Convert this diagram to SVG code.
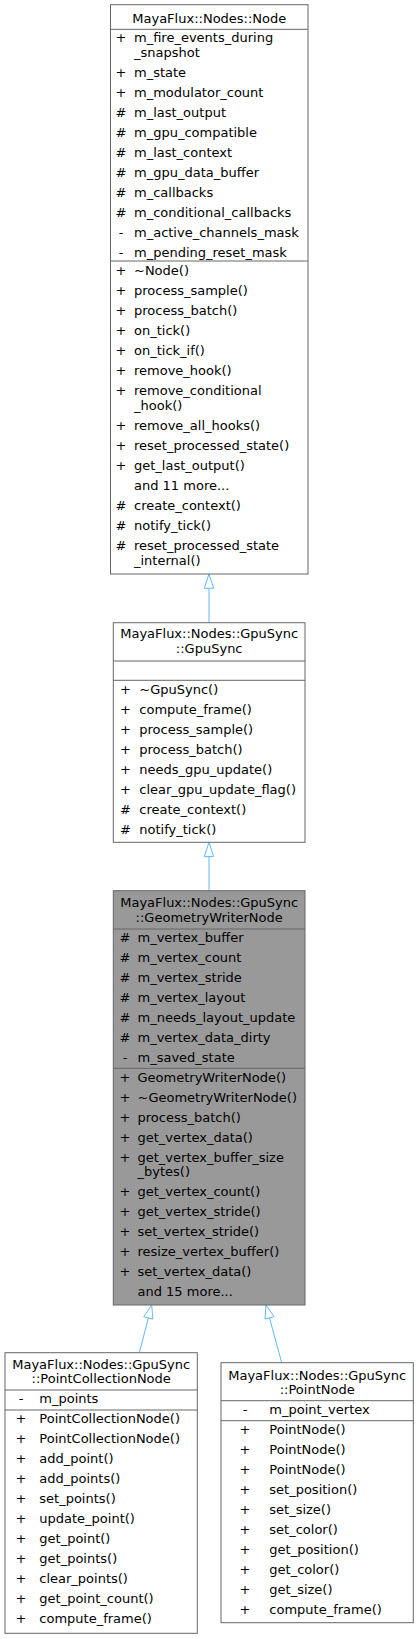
<svg xmlns="http://www.w3.org/2000/svg" width="419" height="1639" viewBox="0 0 419 1639">
<style>
text{font-family:"DejaVu Sans","Liberation Sans",sans-serif;font-size:13px;fill:#000}
.t{text-anchor:middle}
.s{text-anchor:middle}
.box{fill:#fff;stroke:#666;stroke-width:1}
.cur{fill:#999;stroke:#666;stroke-width:1}
.sep{stroke:#666;stroke-width:1;fill:none}
.edge{stroke:#63b8ff;stroke-width:1;fill:none}
.head{stroke:#63b8ff;stroke-width:1;fill:#fff}
</style>
<rect width="419" height="1639" fill="#fff"/>
<g id="connectors">
<path class="edge" d="M209,622.7V588.3"/>
<polygon class="head" points="209,574 213.7,588.3 204.3,588.3"/>
<path class="edge" d="M209,890.7V856.6"/>
<polygon class="head" points="209,842.3 213.7,856.6 204.3,856.6"/>
<path class="edge" d="M139.3,1352.7L148.35,1317.9"/>
<polygon class="head" points="151.7,1305 152.87,1319.07 143.83,1316.73"/>
<path class="edge" d="M281.7,1362.7L269.5,1317.8"/>
<polygon class="head" points="266,1305 274,1316.6 265,1319.06"/>
</g>
<g id="node-Node">
<rect class="box" x="110.5" y="4.7" width="197.5" height="569.3"/>
<path class="sep" d="M110.5,29.3H308M110.5,261H308"/>
<text class="t" x="209.3" y="22.5">MayaFlux::Nodes::Node</text>
<g>
<text class="s" x="121" y="42.3">+</text><text x="134" y="42.3">m_fire_events_during</text>
<text x="134" y="57">_snapshot</text>
<text class="s" x="121" y="77">+</text><text x="134" y="77">m_state</text>
<text class="s" x="121" y="97">+</text><text x="134" y="97">m_modulator_count</text>
<text class="s" x="121" y="117">#</text><text x="134" y="117">m_last_output</text>
<text class="s" x="121" y="137">#</text><text x="134" y="137">m_gpu_compatible</text>
<text class="s" x="121" y="157">#</text><text x="134" y="157">m_last_context</text>
<text class="s" x="121" y="177">#</text><text x="134" y="177">m_gpu_data_buffer</text>
<text class="s" x="121" y="197">#</text><text x="134" y="197">m_callbacks</text>
<text class="s" x="121" y="217">#</text><text x="134" y="217">m_conditional_callbacks</text>
<text class="s" x="121" y="237">-</text><text x="134" y="237">m_active_channels_mask</text>
<text class="s" x="121" y="257">-</text><text x="134" y="257">m_pending_reset_mask</text>
</g>
<g>
<text class="s" x="121" y="275.3">+</text><text x="134" y="275.3">~Node()</text>
<text class="s" x="121" y="295.3">+</text><text x="134" y="295.3">process_sample()</text>
<text class="s" x="121" y="315.3">+</text><text x="134" y="315.3">process_batch()</text>
<text class="s" x="121" y="335.3">+</text><text x="134" y="335.3">on_tick()</text>
<text class="s" x="121" y="355.3">+</text><text x="134" y="355.3">on_tick_if()</text>
<text class="s" x="121" y="375.3">+</text><text x="134" y="375.3">remove_hook()</text>
<text class="s" x="121" y="395.3">+</text><text x="134" y="395.3">remove_conditional</text>
<text x="134" y="410">_hook()</text>
<text class="s" x="121" y="430">+</text><text x="134" y="430">remove_all_hooks()</text>
<text class="s" x="121" y="450">+</text><text x="134" y="450">reset_processed_state()</text>
<text class="s" x="121" y="470">+</text><text x="134" y="470">get_last_output()</text>
<text x="134" y="490">and 11 more...</text>
<text class="s" x="121" y="510">#</text><text x="134" y="510">create_context()</text>
<text class="s" x="121" y="530">#</text><text x="134" y="530">notify_tick()</text>
<text class="s" x="121" y="550">#</text><text x="134" y="550">reset_processed_state</text>
<text x="134" y="564.7">_internal()</text>
</g>
</g>
<g id="node-GpuSync">
<rect class="box" x="113.3" y="622.7" width="191.7" height="219.6"/>
<path class="sep" d="M113.3,661H305M113.3,680.3H305"/>
<text class="t" x="209.2" y="638.3">MayaFlux::Nodes::GpuSync</text>
<text class="t" x="209.2" y="653.3">::GpuSync</text>
<text class="s" x="125.5" y="694">+</text><text x="139.3" y="694">~GpuSync()</text>
<text class="s" x="125.5" y="714">+</text><text x="139.3" y="714">compute_frame()</text>
<text class="s" x="125.5" y="734">+</text><text x="139.3" y="734">process_sample()</text>
<text class="s" x="125.5" y="754">+</text><text x="139.3" y="754">process_batch()</text>
<text class="s" x="125.5" y="774">+</text><text x="139.3" y="774">needs_gpu_update()</text>
<text class="s" x="125.5" y="794">+</text><text x="139.3" y="794">clear_gpu_update_flag()</text>
<text class="s" x="125.5" y="814">#</text><text x="139.3" y="814">create_context()</text>
<text class="s" x="125.5" y="834">#</text><text x="139.3" y="834">notify_tick()</text>
</g>
<g id="node-GeometryWriterNode">
<rect class="cur" x="113.3" y="890.7" width="191.7" height="414.3"/>
<path class="sep" d="M113.3,929H305M113.3,1068.3H305"/>
<text class="t" x="209.2" y="907.3">MayaFlux::Nodes::GpuSync</text>
<text class="t" x="209.2" y="921.7">::GeometryWriterNode</text>
<text class="s" x="125" y="941.7">#</text><text x="137.5" y="941.7">m_vertex_buffer</text>
<text class="s" x="125" y="961.7">#</text><text x="137.5" y="961.7">m_vertex_count</text>
<text class="s" x="125" y="981.7">#</text><text x="137.5" y="981.7">m_vertex_stride</text>
<text class="s" x="125" y="1001.7">#</text><text x="137.5" y="1001.7">m_vertex_layout</text>
<text class="s" x="125" y="1021.7">#</text><text x="137.5" y="1021.7">m_needs_layout_update</text>
<text class="s" x="125" y="1041.7">#</text><text x="137.5" y="1041.7">m_vertex_data_dirty</text>
<text class="s" x="125" y="1061.7">-</text><text x="137.5" y="1061.7">m_saved_state</text>
<text class="s" x="125" y="1081.7">+</text><text x="137.5" y="1081.7">GeometryWriterNode()</text>
<text class="s" x="125" y="1101.7">+</text><text x="137.5" y="1101.7">~GeometryWriterNode()</text>
<text class="s" x="125" y="1121.7">+</text><text x="137.5" y="1121.7">process_batch()</text>
<text class="s" x="125" y="1141.7">+</text><text x="137.5" y="1141.7">get_vertex_data()</text>
<text class="s" x="125" y="1161.5">+</text><text x="137.5" y="1161.5">get_vertex_buffer_size</text>
<text x="137.5" y="1176.2">_bytes()</text>
<text class="s" x="125" y="1195.7">+</text><text x="137.5" y="1195.7">get_vertex_count()</text>
<text class="s" x="125" y="1215.7">+</text><text x="137.5" y="1215.7">get_vertex_stride()</text>
<text class="s" x="125" y="1235.7">+</text><text x="137.5" y="1235.7">set_vertex_stride()</text>
<text class="s" x="125" y="1255.7">+</text><text x="137.5" y="1255.7">resize_vertex_buffer()</text>
<text class="s" x="125" y="1275.7">+</text><text x="137.5" y="1275.7">set_vertex_data()</text>
<text x="137.5" y="1295.7">and 15 more...</text>
</g>
<g id="node-PointCollectionNode">
<rect class="box" x="5" y="1352.7" width="192.3" height="280.6"/>
<path class="sep" d="M5,1390H197.3M5,1410H197.3"/>
<text class="t" x="101.2" y="1369">MayaFlux::Nodes::GpuSync</text>
<text class="t" x="101.2" y="1383.3">::PointCollectionNode</text>
<text class="s" x="21" y="1403.3">-</text><text x="39.3" y="1403.3">m_points</text>
<text class="s" x="21" y="1423.3">+</text><text x="39.3" y="1423.3">PointCollectionNode()</text>
<text class="s" x="21" y="1443.3">+</text><text x="39.3" y="1443.3">PointCollectionNode()</text>
<text class="s" x="21" y="1463.3">+</text><text x="39.3" y="1463.3">add_point()</text>
<text class="s" x="21" y="1483.3">+</text><text x="39.3" y="1483.3">add_points()</text>
<text class="s" x="21" y="1503.3">+</text><text x="39.3" y="1503.3">set_points()</text>
<text class="s" x="21" y="1523.3">+</text><text x="39.3" y="1523.3">update_point()</text>
<text class="s" x="21" y="1543.3">+</text><text x="39.3" y="1543.3">get_point()</text>
<text class="s" x="21" y="1563.3">+</text><text x="39.3" y="1563.3">get_points()</text>
<text class="s" x="21" y="1583.3">+</text><text x="39.3" y="1583.3">clear_points()</text>
<text class="s" x="21" y="1603.3">+</text><text x="39.3" y="1603.3">get_point_count()</text>
<text class="s" x="21" y="1623.3">+</text><text x="39.3" y="1623.3">compute_frame()</text>
</g>
<g id="node-PointNode">
<rect class="box" x="221" y="1362.7" width="192.3" height="260"/>
<path class="sep" d="M221,1400.7H413.3M221,1420.7H413.3"/>
<text class="t" x="317.2" y="1380">MayaFlux::Nodes::GpuSync</text>
<text class="t" x="317.2" y="1394.3">::PointNode</text>
<text class="s" x="245" y="1414">-</text><text x="269.3" y="1414">m_point_vertex</text>
<text class="s" x="245" y="1434">+</text><text x="269.3" y="1434">PointNode()</text>
<text class="s" x="245" y="1454">+</text><text x="269.3" y="1454">PointNode()</text>
<text class="s" x="245" y="1474">+</text><text x="269.3" y="1474">PointNode()</text>
<text class="s" x="245" y="1494">+</text><text x="269.3" y="1494">set_position()</text>
<text class="s" x="245" y="1514">+</text><text x="269.3" y="1514">set_size()</text>
<text class="s" x="245" y="1534">+</text><text x="269.3" y="1534">set_color()</text>
<text class="s" x="245" y="1554">+</text><text x="269.3" y="1554">get_position()</text>
<text class="s" x="245" y="1574">+</text><text x="269.3" y="1574">get_color()</text>
<text class="s" x="245" y="1594">+</text><text x="269.3" y="1594">get_size()</text>
<text class="s" x="245" y="1614">+</text><text x="269.3" y="1614">compute_frame()</text>
</g>
</svg>
